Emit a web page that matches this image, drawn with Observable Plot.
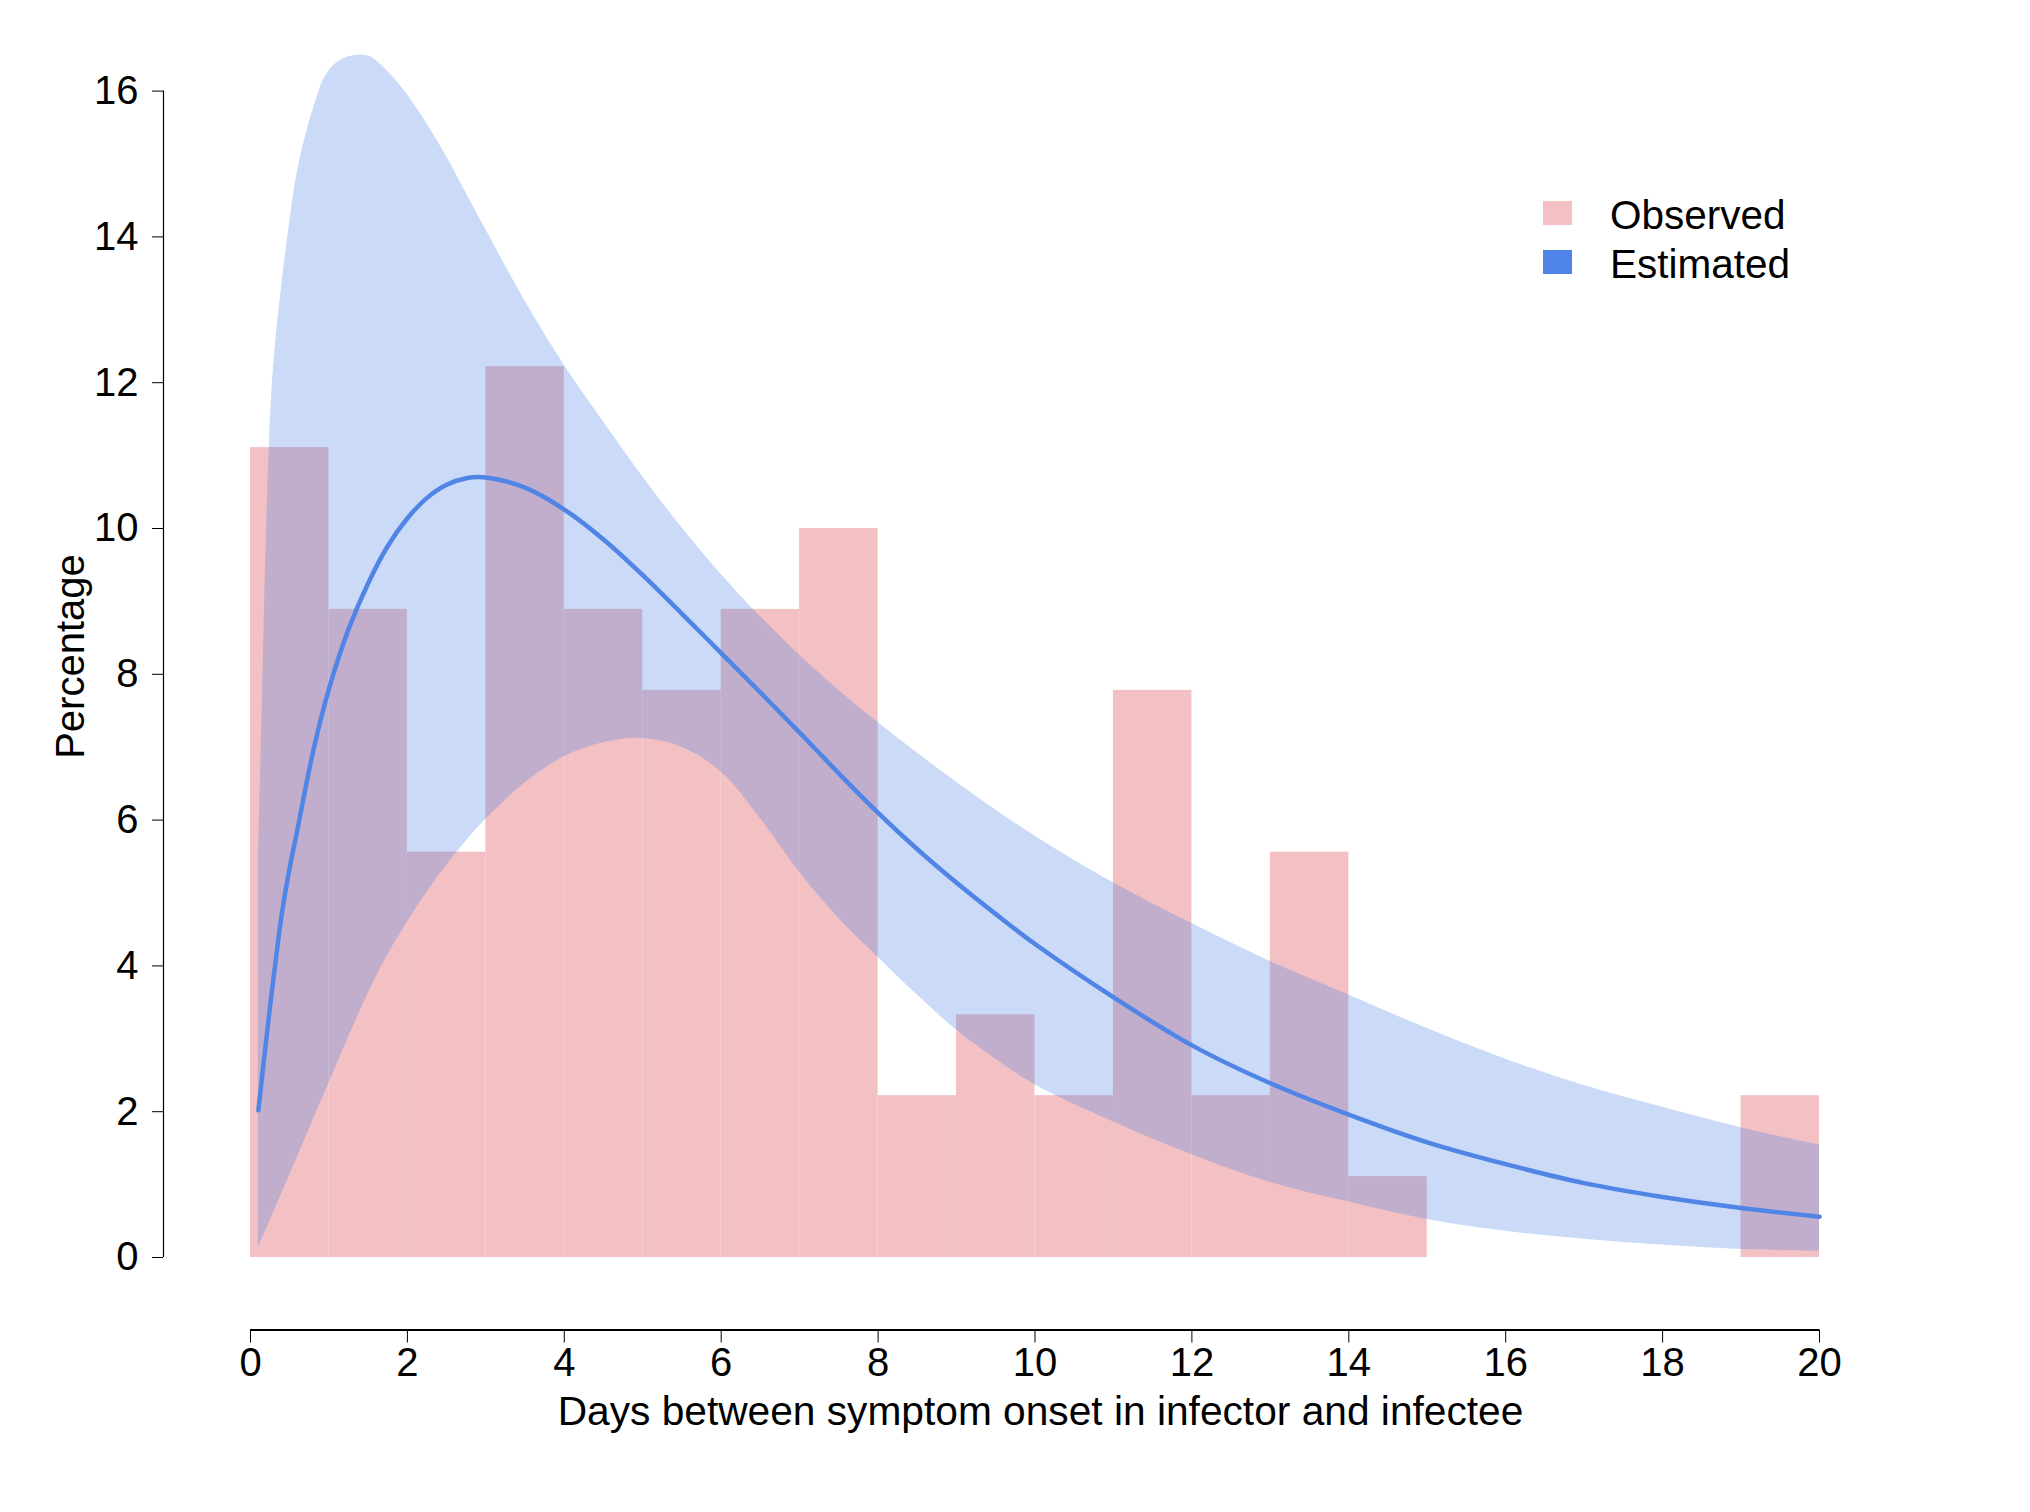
<!DOCTYPE html>
<html>
<head>
<meta charset="utf-8">
<script src="https://cdn.jsdelivr.net/npm/d3@7"></script>
<script src="https://cdn.jsdelivr.net/npm/@observablehq/plot@0.6"></script>
<style>
  html, body { margin: 0; padding: 0; background: #ffffff; }
  #wrap { position: relative; width: 2030px; height: 1512px; font-family: "Liberation Sans", Arial, Helvetica, sans-serif; }
  .legsw { position: absolute; left: 1543px; width: 29px; height: 24px; }
  .legtx { position: absolute; left: 1610px; font-size: 40.5px; line-height: 40px; color: #000; white-space: nowrap; }
</style>
</head>
<body>
<div id="wrap"></div>
<script>
// ---- Observed histogram (percentage of pairs per 1-day bin) ----
const binStart = [0, 1, 2, 3, 4, 5, 6, 7, 8, 9, 10, 11, 12, 13, 14, 19];
const binEnd   = [1, 2, 3, 4, 5, 6, 7, 8, 9, 10, 11, 12, 13, 14, 15, 20];
const observed = [11.11, 8.89, 5.56, 12.22, 8.89, 7.78, 8.89, 10.0, 2.22, 3.33, 2.22, 7.78, 2.22, 5.56, 1.11, 2.22];

// ---- Estimated serial-interval density ----
const days = [0.1, 0.15, 0.2, 0.25, 0.3, 0.4, 0.5, 0.6, 0.8, 1, 1.25, 1.5, 1.75, 2, 2.25, 2.5, 2.75, 3, 3.5, 4, 4.5, 5, 5.5, 6, 6.5, 7, 7.5, 8, 8.5, 9, 9.5, 10, 11, 12, 13, 14, 15, 16, 17, 18, 19, 20];
const estimated = [2.02, 2.5, 2.98, 3.45, 3.89, 4.72, 5.35, 5.88, 6.95, 7.8, 8.62, 9.25, 9.76, 10.14, 10.42, 10.6, 10.69, 10.70, 10.56, 10.26, 9.85, 9.36, 8.83, 8.29, 7.75, 7.2, 6.64, 6.1, 5.6, 5.14, 4.71, 4.3, 3.57, 2.91, 2.39, 1.96, 1.58, 1.28, 1.02, 0.83, 0.68, 0.56];
const upper = [5.4, 7.6, 9.8, 11.4, 12.3, 13.35, 14.2, 14.9, 15.75, 16.28, 16.47, 16.48, 16.27, 15.95, 15.55, 15.1, 14.6, 14.1, 13.12, 12.24, 11.46, 10.71, 10.01, 9.37, 8.79, 8.26, 7.78, 7.34, 6.92, 6.52, 6.14, 5.78, 5.14, 4.58, 4.06, 3.6, 3.14, 2.72, 2.36, 2.06, 1.78, 1.54];
const lower = [0.14, 0.26, 0.38, 0.5, 0.63, 0.88, 1.13, 1.38, 1.89, 2.39, 3.02, 3.62, 4.15, 4.6, 5.01, 5.38, 5.71, 6.01, 6.51, 6.87, 7.06, 7.12, 7.0, 6.66, 6.02, 5.28, 4.65, 4.12, 3.6, 3.12, 2.72, 2.37, 1.86, 1.41, 1.03, 0.76, 0.52, 0.36, 0.25, 0.17, 0.11, 0.09];

// ---- Axis ticks and labels ----
const xTicks = [0, 2, 4, 6, 8, 10, 12, 14, 16, 18, 20];
const yTicks = [0, 2, 4, 6, 8, 10, 12, 14, 16];
const xLabel = "Days between symptom onset in infector and infectee";
const yLabel = "Percentage";
const legendLabels = ["Observed", "Estimated"];

const pink = "#f3c1c3";
const blue = "#5085e6";

const bars = binStart.map((s, i) => ({x1: s, x2: binEnd[i], y: observed[i]}));
const curve = days.map((d, i) => ({x: d, mid: estimated[i], lo: lower[i], hi: upper[i]}));

const font = "'Liberation Sans', Arial, Helvetica, sans-serif";

const chart = Plot.plot({
  width: 2030,
  height: 1512,
  marginLeft: 163,
  marginRight: 211,
  marginTop: 90.6,
  marginBottom: 182.5,
  style: {fontFamily: font, fontSize: "40px", color: "#000", background: "#fff"},
  x: {domain: [xTicks[0], xTicks[xTicks.length - 1]], insetLeft: 87},
  y: {domain: [yTicks[0], yTicks[yTicks.length - 1]], insetBottom: 72.5},
  marks: [
    Plot.rectY(bars, {x1: "x1", x2: "x2", y: "y", fill: pink, inset: 0}),
    Plot.areaY(curve, {x: "x", y1: "lo", y2: "hi", fill: blue, fillOpacity: 0.3, curve: "catmull-rom"}),
    Plot.lineY(curve, {x: "x", y: "mid", stroke: blue, strokeWidth: 4.5, curve: "catmull-rom"}),
    // axis lines
    Plot.ruleX([xTicks[0]], {y1: yTicks[0], y2: yTicks[yTicks.length - 1], dx: -87, stroke: "#000", strokeWidth: 1.2}),
    Plot.ruleY([yTicks[0]], {x1: xTicks[0], x2: xTicks[xTicks.length - 1], dy: 72.5, stroke: "#000", strokeWidth: 2}),
    Plot.axisX({ticks: xTicks, tickSize: 13, tickPadding: 5, fontSize: 40, label: null, stroke: "#000"}),
    Plot.axisY({ticks: yTicks, tickSize: 11, tickPadding: 14, fontSize: 40, label: null, stroke: "#000"}),
    Plot.text([xLabel], {text: d => d, frameAnchor: "bottom", lineAnchor: "bottom", dx: 49, dy: 94.5, fontSize: 40.7, fill: "#000"}),
    Plot.text([yLabel], {text: d => d, frameAnchor: "left", rotate: -90, lineAnchor: "bottom", textAnchor: "middle", dx: -80, dy: -54, fontSize: 40, fill: "#000"})
  ]
});

const wrap = document.getElementById("wrap");
wrap.appendChild(chart);

// legend overlay
const legendColors = [pink, "#4f84e8"];
legendLabels.forEach((lab, i) => {
  const sw = document.createElement("div");
  sw.className = "legsw";
  sw.style.top = (201 + i * 48.7) + "px";
  sw.style.background = legendColors[i];
  wrap.appendChild(sw);
  const tx = document.createElement("div");
  tx.className = "legtx";
  tx.style.top = (194.5 + i * 49) + "px";
  tx.textContent = lab;
  wrap.appendChild(tx);
});
</script>
</body>
</html>
